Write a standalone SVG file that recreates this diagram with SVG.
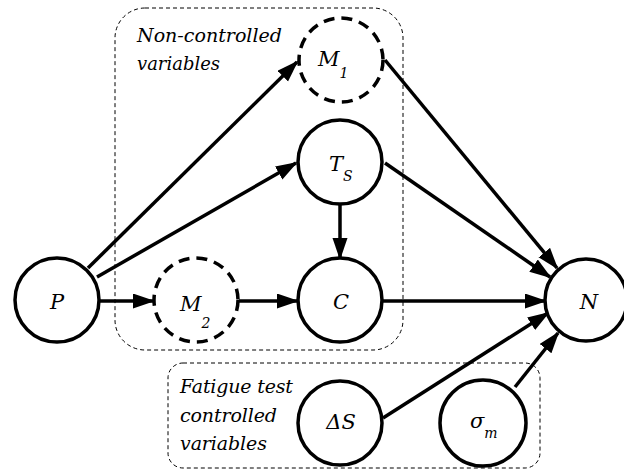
<svg xmlns="http://www.w3.org/2000/svg" width="624" height="470" viewBox="0 0 624 470">
  <style>
    .node { fill: #fff; stroke: #000; stroke-width: 3.5; }
    .latent { fill: #fff; stroke: #000; stroke-width: 3.5; stroke-dasharray: 11 7; }
    .group { fill: none; stroke: #000; stroke-width: 1; stroke-dasharray: 4 3; }
    .edge { stroke: #000; stroke-width: 3.5; fill: none; marker-end: url(#arrow); }
    text { font-family: "DejaVu Serif", "Liberation Serif", serif; font-style: italic; fill: #000; }
    .lbl { font-size: 21px; }
    .sub { font-size: 14px; }
    .note { font-size: 19px; }
  </style>
  <defs>
    <marker id="arrow" markerUnits="userSpaceOnUse" markerWidth="24" markerHeight="18" refX="20" refY="7.5" orient="auto">
      <path d="M0,0 L22,7.5 L0,15 z" fill="#000"/>
    </marker>
  </defs>
  <rect width="624" height="470" fill="#fff"/>

  <!-- variable groupings -->
  <g id="groups">
    <rect class="group" x="115" y="8" width="288" height="342" rx="30" ry="30"/>
    <text class="note" x="137" y="42" textLength="145" lengthAdjust="spacingAndGlyphs">Non-controlled</text>
    <text class="note" x="137" y="70" textLength="83" lengthAdjust="spacingAndGlyphs">variables</text>
    <rect class="group" x="168" y="363" width="372" height="105" rx="15" ry="15"/>
    <text class="note" x="180" y="393" textLength="113" lengthAdjust="spacing">Fatigue test</text>
    <text class="note" x="180" y="422" textLength="97" lengthAdjust="spacing">controlled</text>
    <text class="note" x="180" y="450" textLength="87" lengthAdjust="spacing">variables</text>
  </g>

  <!-- dependencies -->
  <g id="connectors">
    <line class="edge" x1="88" y1="268" x2="297" y2="62"/>
    <line class="edge" x1="97" y1="277" x2="296" y2="163"/>
    <line class="edge" x1="99" y1="301" x2="153" y2="301"/>
    <line class="edge" x1="239" y1="301" x2="297" y2="301"/>
    <line class="edge" x1="340" y1="204" x2="340" y2="258"/>
    <line class="edge" x1="383" y1="301" x2="545" y2="301"/>
    <line class="edge" x1="385" y1="163" x2="550" y2="277"/>
    <line class="edge" x1="385" y1="60" x2="557" y2="268"/>
    <line class="edge" x1="383" y1="418" x2="548" y2="313"/>
    <line class="edge" x1="515" y1="387" x2="558" y2="333"/>
  </g>

  <g id="node-P">
    <circle class="node" cx="57" cy="300" r="42"/>
    <text class="lbl" x="57" y="309" text-anchor="middle">P</text>
  </g>
  <g id="node-M1">
    <circle class="latent" cx="341" cy="60" r="42"/>
    <text class="lbl" x="318" y="66">M<tspan class="sub" dx="0" dy="12">1</tspan></text>
  </g>
  <g id="node-TS">
    <circle class="node" cx="340" cy="162" r="42"/>
    <text class="lbl" x="329" y="171">T<tspan class="sub" dx="0" dy="10">S</tspan></text>
  </g>
  <g id="node-M2">
    <circle class="latent" cx="196" cy="300" r="42"/>
    <text class="lbl" x="180" y="311">M<tspan class="sub" dx="0" dy="17">2</tspan></text>
  </g>
  <g id="node-C">
    <circle class="node" cx="340" cy="300" r="42"/>
    <text class="lbl" x="341" y="309" text-anchor="middle">C</text>
  </g>
  <g id="node-N">
    <circle class="node" cx="586" cy="300" r="41"/>
    <text class="lbl" x="589" y="309" text-anchor="middle">N</text>
  </g>
  <g id="node-dS">
    <circle class="node" cx="340" cy="423" r="42"/>
    <text class="lbl" x="341" y="429" text-anchor="middle">ΔS</text>
  </g>
  <g id="node-sigma">
    <circle class="node" cx="483" cy="423" r="43"/>
    <text class="lbl" x="470" y="428">σ<tspan class="sub" dx="0" dy="10">m</tspan></text>
  </g>
</svg>
